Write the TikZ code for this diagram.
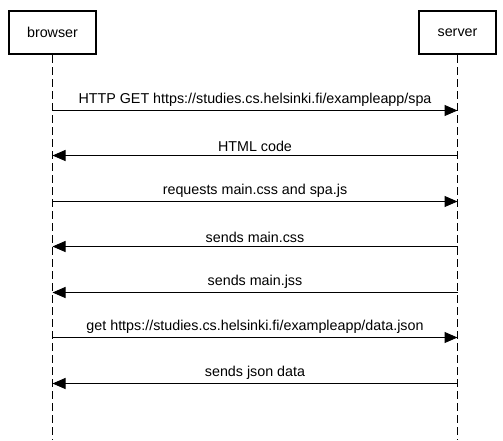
\documentclass[tikz,border=0pt]{standalone}
\usepackage{fontspec}
\setmainfont{Liberation Sans}
\usetikzlibrary{arrows.meta}

\begin{document}
\begin{tikzpicture}[x=1pt,y=-1pt,font=\fontsize{14.3}{16}\selectfont,
    actor/.style={draw,line width=2pt,minimum height=43pt,inner sep=0pt},
    lifeline/.style={line width=1pt,dash pattern=on 8pt off 4pt},
    msg/.style={line width=1pt,-{Triangle[length=13pt,width=11pt]}}]
    \useasboundingbox (0,0) rectangle (503,440);

    % Draw the two actor boxes at the top
    \node[actor,minimum width=87pt] (browser) at (52.5,32.5) {browser};
    \node[actor,minimum width=77pt] (server) at (457.5,32.5) {server};

    % Draw dashed lifelines down to the bottom
    \coordinate (browser-end) at (52.5,440);
    \coordinate (server-end) at (457.5,440);
    \draw[lifeline] (browser) -- (browser-end);
    \draw[lifeline] (server) -- (server-end);

    % Requests from browser to server
    \foreach \y/\txt [count=\i] in {110.5/{HTTP GET https://studies.cs.helsinki.fi/exampleapp/spa},
            201.5/{requests main.css and spa.js},
            337.5/{get https://studies.cs.helsinki.fi/exampleapp/data.json}} {
            \coordinate (req-b\i) at (browser |- 0,\y);
            \coordinate (req-s\i) at (server |- 0,\y);
            \draw[msg] (req-b\i) -- (req-s\i) node[midway,above=0.5pt] {\txt};
        }

    % Responses from server back to browser
    \foreach \y/\txt [count=\i] in {155.5/{HTML code}, 246.5/{sends main.css},
            292.5/{sends main.jss}, 383.5/{sends json data}} {
            \coordinate (res-s\i) at (server |- 0,\y);
            \coordinate (res-b\i) at (browser |- 0,\y);
            \draw[msg] (res-s\i) -- (res-b\i) node[midway,above=0.5pt] {\txt};
        }

\end{tikzpicture}
\end{document}
